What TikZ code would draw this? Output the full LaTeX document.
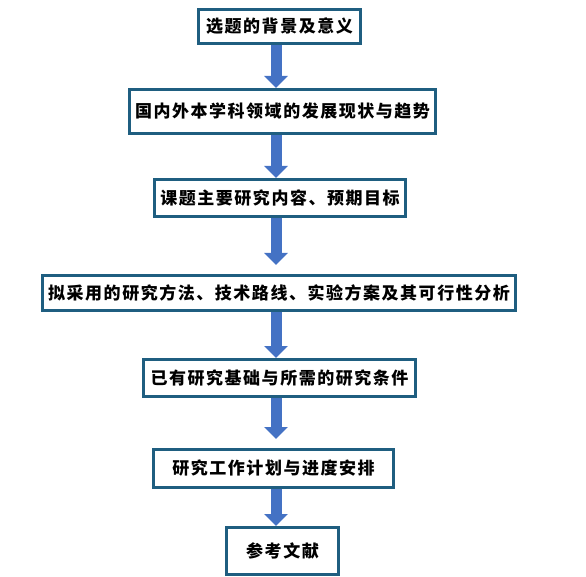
\documentclass[tikz,border=0pt]{standalone}
\usepackage{fontspec}
\newfontfamily\cjk[LetterSpace=9]{Noto Sans CJK SC}
\usetikzlibrary{positioning,arrows.meta}
\definecolor{boxline}{RGB}{31,94,128}
\definecolor{arrowfill}{RGB}{68,114,196}

\begin{document}
\begin{tikzpicture}[x=1pt,y=1pt,
  box/.style={draw=boxline,line width=3pt,fill=white,inner sep=0pt,font=\cjk\bfseries\fontsize{17}{19}\selectfont},
  flow/.style={draw=arrowfill,line width=11pt,-{Triangle[width=23pt,length=12pt]}}] %
  \useasboundingbox (0,0) rectangle (586,-577);
  \coordinate (ax) at (276,0);
  \node[box,minimum width=162pt,minimum height=34pt] (bg) at (279.5,-26.5) {选题的背景及意义} ; %
  \node[box,minimum width=306pt,minimum height=44pt,below=43pt of bg,xshift=3pt] (status) {国内外本学科领域的发展现状与趋势} ; %
  \node[box,minimum width=251pt,minimum height=37pt,below=43pt of status,xshift=-2.5pt] (content) {课题主要研究内容、预期目标} ; %
  \node[box,minimum width=473pt,minimum height=35pt,below=56pt of content,xshift=-1pt] (method) {拟采用的研究方法、技术路线、实验方案及其可行性分析};
  \node[box,minimum width=272pt,minimum height=37pt,below=46pt of method,xshift=0.5pt] (basis) {已有研究基础与所需的研究条件};
  \node[box,minimum width=240pt,minimum height=38pt,below=50pt of basis,xshift=-6pt] (plan) {研究工作计划与进度安排};
  \node[box,minimum width=112pt,minimum height=47pt,below=37pt of plan,xshift=9pt] (refs) {参考文献};
  \draw[flow] (bg.south -| ax) -- (status.north -| ax) ; %
  \draw[flow] (status.south -| ax) -- (content.north -| ax);
  \draw[flow,shorten >=9pt] (content.south -| ax) -- (method.north -| ax);
  \draw[flow] (method.south -| ax) -- (basis.north -| ax);
  \draw[flow,shorten >=9pt] (basis.south -| ax) -- (plan.north -| ax);
  \draw[flow] (plan.south -| ax) -- (refs.north -| ax);
\end{tikzpicture}
\end{document}
